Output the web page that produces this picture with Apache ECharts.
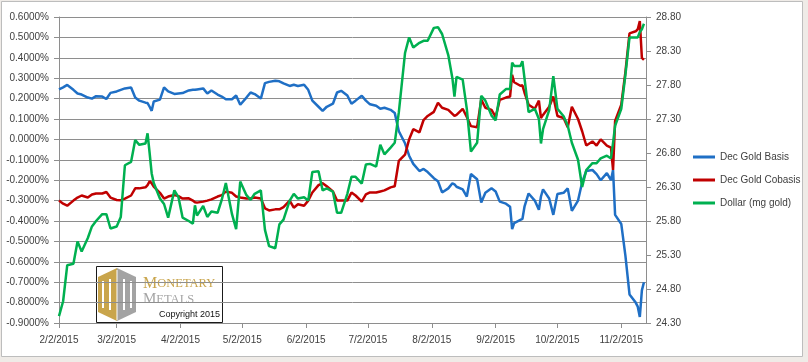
<!DOCTYPE html>
<html>
<head>
<meta charset="utf-8">
<script src="https://cdn.jsdelivr.net/npm/echarts@6/dist/echarts.min.js"></script>
<style>
html,body{margin:0;padding:0;background:#EFEBE7;}
#chart{width:808px;height:362px;}
</style>
</head>
<body>
<div id="chart"></div>
<script>
const dates = [
'2015-02-02','2015-02-04','2015-02-06','2015-02-09','2015-02-11','2015-02-13','2015-02-16','2015-02-18','2015-02-20','2015-02-23','2015-02-25','2015-02-27',
'2015-03-02','2015-03-04','2015-03-06','2015-03-09','2015-03-11','2015-03-13','2015-03-16','2015-03-17','2015-03-18','2015-03-19','2015-03-20','2015-03-23','2015-03-25','2015-03-27','2015-03-30',
'2015-04-01','2015-04-03','2015-04-06','2015-04-08','2015-04-09','2015-04-10','2015-04-13','2015-04-15','2015-04-17','2015-04-20','2015-04-22','2015-04-24','2015-04-27','2015-04-29',
'2015-05-01','2015-05-04','2015-05-06','2015-05-08','2015-05-11','2015-05-13','2015-05-15','2015-05-18','2015-05-20','2015-05-22','2015-05-25','2015-05-27','2015-05-29',
'2015-06-01','2015-06-03','2015-06-05','2015-06-08','2015-06-10','2015-06-12','2015-06-15','2015-06-17','2015-06-19','2015-06-22','2015-06-24','2015-06-26','2015-06-29',
'2015-07-01','2015-07-03','2015-07-06','2015-07-08','2015-07-10','2015-07-13','2015-07-15','2015-07-17','2015-07-20','2015-07-22','2015-07-24','2015-07-27','2015-07-29','2015-07-31',
'2015-08-03','2015-08-05','2015-08-07','2015-08-10','2015-08-12','2015-08-13','2015-08-14','2015-08-17','2015-08-19','2015-08-21','2015-08-24','2015-08-26','2015-08-28','2015-08-31',
'2015-09-02','2015-09-04','2015-09-07','2015-09-09','2015-09-10','2015-09-11','2015-09-14','2015-09-15','2015-09-16','2015-09-18','2015-09-21','2015-09-23','2015-09-24','2015-09-25','2015-09-28','2015-09-30',
'2015-10-02','2015-10-05','2015-10-07','2015-10-09','2015-10-12','2015-10-14','2015-10-16','2015-10-19','2015-10-21','2015-10-23','2015-10-26','2015-10-28','2015-10-29','2015-10-30',
'2015-11-02','2015-11-04','2015-11-06','2015-11-09','2015-11-10','2015-11-11','2015-11-12','2015-11-13'
];
// Dec Gold Basis (%)
const basis = [
.245,.255,.267,.243,.225,.220,.205,.200,.212,.210,.198,.228,
.235,.243,.250,.254,.205,.190,.180,.178,.160,.140,.186,.195,.255,.235,.223,
.225,.227,.240,.243,.243,.245,.250,.225,.240,.220,.210,.197,.197,.215,
.170,.205,.230,.222,.200,.276,.282,.287,.285,.275,.262,.268,.262,
.268,.243,.190,.160,.140,.160,.175,.230,.238,.215,.175,.190,.214,
.190,.172,.165,.150,.155,.145,.130,.040,-.019,-.080,-.120,-.155,-.145,-.160,
-.190,-.205,-.260,-.240,-.215,-.220,-.232,-.245,-.280,-.170,-.195,-.310,-.262,-.240,
-.255,-.305,-.315,-.330,-.440,-.410,-.395,-.390,-.330,-.265,-.300,-.345,-.280,-.245,-.290,-.370,
-.268,-.262,-.240,-.350,-.300,-.210,-.155,-.150,-.170,-.200,-.165,-.200,-.150,-.370,
-.415,-.570,-.760,-.800,-.820,-.870,-.740,-.700
];
// Dec Gold Cobasis (%)
const cobasis = [
-.300,-.315,-.325,-.300,-.285,-.275,-.285,-.270,-.265,-.265,-.258,-.285,
-.297,-.298,-.290,-.275,-.240,-.240,-.235,-.224,-.205,-.215,-.232,-.262,-.290,-.280,-.273,
-.278,-.290,-.289,-.300,-.308,-.310,-.305,-.300,-.294,-.280,-.273,-.256,-.262,-.280,
-.285,-.290,-.290,-.285,-.290,-.338,-.348,-.343,-.343,-.332,-.300,-.335,-.318,
-.325,-.300,-.260,-.224,-.215,-.230,-.255,-.300,-.300,-.300,-.260,-.275,-.305,
-.270,-.260,-.260,-.255,-.250,-.235,-.230,-.105,-.075,.000,.050,.035,.095,.115,
.135,.180,.155,.145,.125,.115,.120,.150,.110,.065,.060,.195,.155,.145,
.110,.194,.205,.210,.317,.280,.263,.265,.230,.170,.150,.190,.105,.120,.160,.210,
.115,.105,.060,.160,.100,.040,-.030,-.010,-.030,.000,-.030,-.040,-.150,.090,
.170,.330,.520,.530,.540,.580,.400,.390
];
// Dollar (mg gold)
const dollar = [
24.40,24.62,25.15,25.17,25.50,25.35,25.55,25.72,25.80,25.90,25.90,25.69,
25.72,25.86,26.62,26.67,26.99,26.92,26.94,27.09,26.80,26.50,26.36,26.13,26.05,25.85,26.25,
26.15,25.85,25.80,25.76,26.03,25.88,26.02,25.86,25.94,25.92,26.11,26.36,25.90,25.68,
26.38,26.18,26.11,26.20,26.25,25.67,25.43,25.40,25.75,25.82,26.10,26.20,26.13,
26.15,26.10,26.52,26.53,26.25,26.28,26.23,25.92,25.92,26.20,26.45,26.45,26.35,
26.63,26.64,26.60,26.92,26.78,26.88,26.95,27.40,28.27,28.50,28.35,28.42,28.45,28.45,
28.64,28.65,28.55,28.24,27.90,27.63,27.92,27.88,27.45,26.82,26.95,27.64,27.57,27.35,
27.28,27.66,27.74,27.74,28.13,28.08,28.08,28.15,27.90,27.40,27.45,27.30,26.94,27.15,27.43,27.93,
27.45,27.34,27.20,26.95,26.70,26.30,26.55,26.65,26.65,26.72,26.76,26.72,26.95,27.20,
27.45,27.95,28.50,28.50,28.50,28.58,28.62,28.70
];
const seriesNames = ['Dec Gold Basis', 'Dec Gold Cobasis', 'Dollar (mg gold)'];
const xTickDates = ['2015-02-02','2015-03-02','2015-04-02','2015-05-02','2015-06-02','2015-07-02','2015-08-02','2015-09-02','2015-10-02','2015-11-02'];
const xMin = '2015-02-02', xMax = '2015-11-14';
const leftMin = -0.9, leftMax = 0.6, leftStep = 0.1;
const rightMin = 24.3, rightMax = 28.8, rightStep = 0.5;

function ts(s){ const p = s.split('-').map(Number); return new Date(p[0], p[1]-1, p[2]).getTime(); }
const FONT = '"Liberation Sans", Arial, sans-serif';
const TXT = '#404040';
const GRID = '#8E8E8E';

const chart = echarts.init(document.getElementById('chart'), null, {renderer:'canvas'});
chart.setOption({
  animation: false,
  backgroundColor: '#EFEBE7',
  textStyle: {fontFamily: FONT},
  grid: {left: 59, right: 162, top: 17, bottom: 39, containLabel: false},
  legend: {
    orient: 'vertical', left: 688, top: 147, itemGap: 13,
    icon: 'rect', itemWidth: 22, itemHeight: 3,
    textStyle: {fontFamily: FONT, fontSize: 10, color: TXT},
    data: seriesNames
  },
  xAxis: {
    type: 'value', min: ts(xMin), max: ts(xMax), scale: true,
    axisLine: {show: true, onZero: false, lineStyle: {color: GRID, width: 1}},
    axisTick: {show: true, length: 5, customValues: xTickDates.map(ts), lineStyle: {color: GRID}},
    axisLabel: {
      customValues: xTickDates.map(ts), margin: 12, fontSize: 10, color: TXT, fontFamily: FONT,
      hideOverlap: false,
      formatter: function(v){ const d = new Date(v); return (d.getMonth()+1)+'/'+d.getDate()+'/'+d.getFullYear(); }
    },
    splitLine: {show: false}
  },
  yAxis: [
    {
      type: 'value', min: leftMin, max: leftMax, interval: leftStep, position: 'left',
      axisLine: {show: true, lineStyle: {color: GRID}},
      axisTick: {show: true, length: 5, lineStyle: {color: GRID}},
      axisLabel: {margin: 10, fontSize: 10, color: TXT, fontFamily: FONT, formatter: v => v.toFixed(4) + '%'},
      splitLine: {show: true, lineStyle: {color: GRID, width: 1}}
    },
    {
      type: 'value', min: rightMin, max: rightMax, interval: rightStep, position: 'right',
      axisLine: {show: true, lineStyle: {color: GRID}},
      axisTick: {show: true, length: 5, lineStyle: {color: GRID}},
      axisLabel: {margin: 10, fontSize: 10, color: TXT, fontFamily: FONT, formatter: v => v.toFixed(2)},
      splitLine: {show: false}
    }
  ],
  series: [
    {name: seriesNames[0], type: 'line', yAxisIndex: 0, showSymbol: false, symbol: 'none',
     lineStyle: {color: '#1F6FC5', width: 2.5}, itemStyle: {color: '#1F6FC5'},
     data: dates.map((d,i) => [ts(d), basis[i]])},
    {name: seriesNames[1], type: 'line', yAxisIndex: 0, showSymbol: false, symbol: 'none',
     lineStyle: {color: '#C00000', width: 2.5}, itemStyle: {color: '#C00000'},
     data: dates.map((d,i) => [ts(d), cobasis[i]])},
    {name: seriesNames[2], type: 'line', yAxisIndex: 1, showSymbol: false, symbol: 'none',
     lineStyle: {color: '#00B050', width: 2.5}, itemStyle: {color: '#00B050'},
     data: dates.map((d,i) => [ts(d), dollar[i]])}
  ],
  graphic: [
    {type: 'rect', z: -10, silent: true, shape: {x: 1.5, y: 1.5, width: 801, height: 355},
     style: {fill: '#FFFFFF', stroke: '#BDBDBD', lineWidth: 1}},
    {type: 'group', z: 100, silent: true, children: [
      {type: 'rect', shape: {x: 96.5, y: 266.5, width: 126, height: 56}, style: {fill: '#FFFFFF', stroke: '#1A1A1A', lineWidth: 1}},
      {type: 'polygon', shape: {points: [[98,277],[117,268],[117,321],[98,312]]}, style: {fill: '#C9A54C'}},
      {type: 'polygon', shape: {points: [[117,268],[136,277],[136,312],[117,321]]}, style: {fill: '#A3A3A3'}},
      {type: 'rect', shape: {x: 102, y: 281, width: 2, height: 27}, style: {fill: '#FFFFFF'}},
      {type: 'rect', shape: {x: 109, y: 279, width: 2, height: 31}, style: {fill: '#FFFFFF'}},
      {type: 'rect', shape: {x: 116.5, y: 270, width: 1, height: 50}, style: {fill: '#FFFFFF'}},
      {type: 'rect', shape: {x: 123, y: 279, width: 2, height: 31}, style: {fill: '#FFFFFF'}},
      {type: 'rect', shape: {x: 130, y: 281, width: 2, height: 27}, style: {fill: '#FFFFFF'}},
      {type: 'text', style: {x: 143, y: 292, text: '{a|M}{b|ONETARY}', verticalAlign: 'bottom',
        rich: {a: {fontFamily: '"Liberation Serif", serif', fontSize: 16, fill: '#C9A54C'},
               b: {fontFamily: '"Liberation Serif", serif', fontSize: 12.5, fill: '#C9A54C'}}}},
      {type: 'text', style: {x: 143, y: 307, text: '{a|M}{b|ETALS}', verticalAlign: 'bottom',
        rich: {a: {fontFamily: '"Liberation Serif", serif', fontSize: 15, fill: '#A5A5A5'},
               b: {fontFamily: '"Liberation Serif", serif', fontSize: 12.5, fill: '#A5A5A5'}}}},
      {type: 'text', style: {x: 220, y: 314.5, text: 'Copyright 2015', align: 'right', verticalAlign: 'middle',
        fontFamily: FONT, fontSize: 9, fill: '#111111'}}
    ]}
  ]
});
</script>
</body>
</html>
